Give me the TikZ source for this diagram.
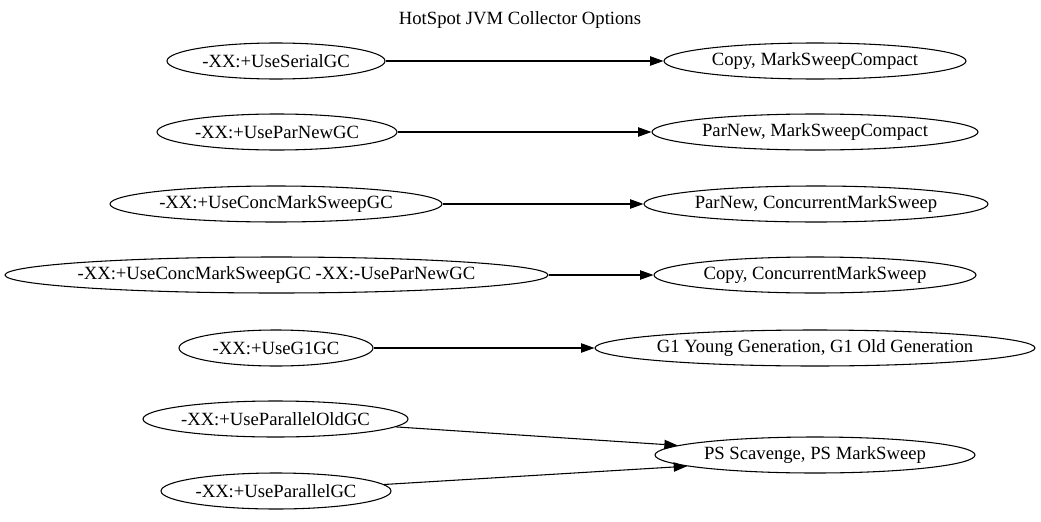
\documentclass[tikz,border=0pt]{standalone}
\usepackage{fontspec}
\setmainfont{Liberation Serif}
\usetikzlibrary{shapes.geometric,arrows.meta}
\newcommand{\zw}[1]{\makebox[0pt]{#1}}
\begin{document}
\begin{tikzpicture}[x=0.75pt,y=-0.75pt,
  ell/.style={ellipse, draw, line width=0.8pt, inner sep=0pt, minimum height=27pt, font=\fontsize{14}{16}\selectfont},
  edge/.style={draw, line width=0.8pt, -{Triangle[length=10pt,width=7pt]}}]
\useasboundingbox (0,0) rectangle (1041,521);
\node[font=\fontsize{14}{16}\selectfont] (title) at (520,20) {HotSpot JVM Collector Options};
% left nodes
\node[ell, minimum width=163.5pt] (L1) at (276,61) {\zw{-XX:+UseSerialGC}};
\node[ell, minimum width=180pt] (L2) at (277,132) {\zw{-XX:+UseParNewGC}};
\node[ell, minimum width=249pt] (L3) at (276,204) {\zw{-XX:+UseConcMarkSweepGC}};
\node[ell, minimum width=407.25pt] (L4) at (276.5,275) {\zw{-XX:+UseConcMarkSweepGC -XX:-UseParNewGC}};
\node[ell, minimum width=145.5pt] (L5) at (276,348) {\zw{-XX:+UseG1GC}};
\node[ell, minimum width=198.75pt] (L6) at (275.5,419) {\zw{-XX:+UseParallelOldGC}};
\node[ell, minimum width=172.5pt] (L7) at (276,491) {\zw{-XX:+UseParallelGC}};
% right nodes
\node[ell, minimum width=226.5pt] (R1) at (815,61) {\zw{Copy, MarkSweepCompact}};
\node[ell, minimum width=244.5pt] (R2) at (815,132) {\zw{ParNew, MarkSweepCompact}};
\node[ell, minimum width=258pt] (R3) at (816,204) {\zw{ParNew, ConcurrentMarkSweep}};
\node[ell, minimum width=241.5pt] (R4) at (815,275) {\zw{Copy, ConcurrentMarkSweep}};
\node[ell, minimum width=330pt] (R5) at (815,348) {\zw{G1 Young Generation, G1 Old Generation}};
\node[ell, minimum width=240pt] (R6) at (815,455) {\zw{PS Scavenge, PS MarkSweep}};
% edges
\draw[edge] (L1) -- (R1);
\draw[edge] (L2) -- (R2);
\draw[edge] (L3) -- (R3);
\draw[edge] (L4) -- (R4);
\draw[edge] (L5) -- (R5);
\draw[edge] (L6) -- (R6.176);
\draw[edge] (L7) -- (R6.185);
\end{tikzpicture}
\end{document}
